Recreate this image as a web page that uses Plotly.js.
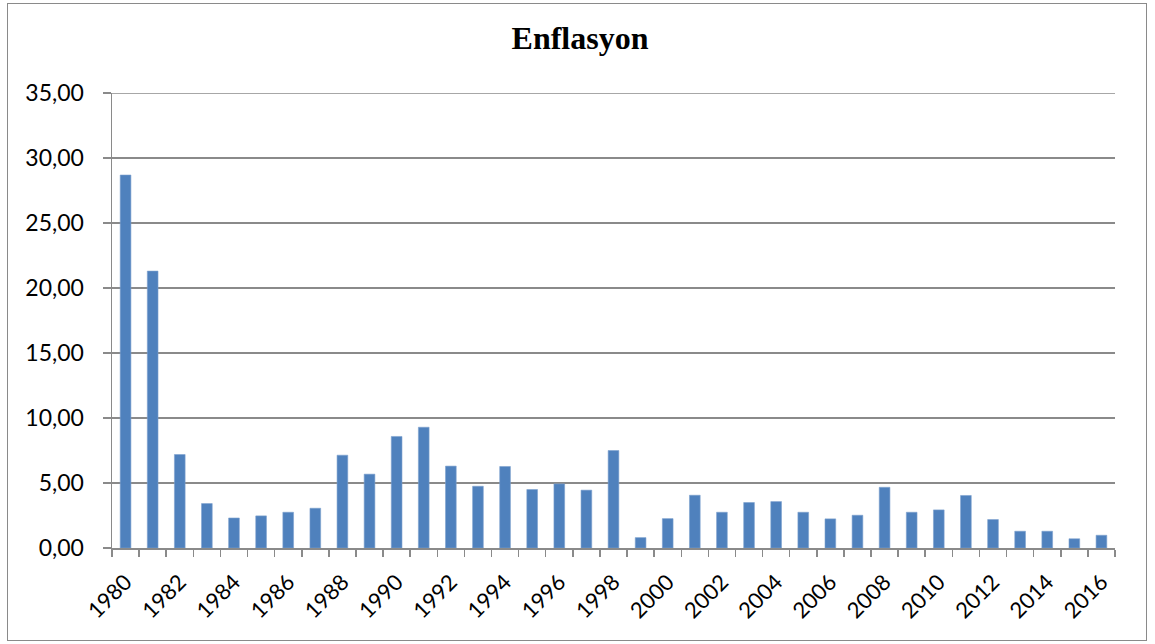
<!DOCTYPE html>
<html>
<head>
<meta charset="utf-8">
<script src="https://cdn.plot.ly/plotly-3.0.1.min.js"></script>
<style>
  html, body { margin: 0; padding: 0; background: #fff; }
  #chart { width: 1155px; height: 644px; }
  #frame { position: absolute; left: 7px; top: 3px; width: 1140px; height: 638px;
           border: 1.5px solid #8a8a8a; box-sizing: border-box; pointer-events: none; }
</style>
</head>
<body>
<div id="chart"></div>
<div id="frame"></div>
<script>
const years = [1980,1981,1982,1983,1984,1985,1986,1987,1988,1989,1990,1991,1992,1993,1994,1995,1996,1997,1998,
               1999,2000,2001,2002,2003,2004,2005,2006,2007,2008,2009,2010,2011,2012,2013,2014,2015,2016];
const inflation = [28.69,21.30,7.19,3.42,2.31,2.47,2.75,3.06,7.14,5.68,8.58,9.29,6.30,4.75,6.27,4.50,4.93,4.45,7.50,
                   0.80,2.26,4.06,2.75,3.50,3.57,2.75,2.24,2.52,4.67,2.75,2.93,4.04,2.19,1.29,1.29,0.71,0.98];
const titleText = 'Enflasyon';
const yMax = 35;

const gridColor = '#8a8a8a';

Plotly.newPlot('chart', [{
  type: 'bar',
  x: years,
  y: inflation,
  marker: { color: '#4f81bd', line: { color: '#7ea1cf', width: 0.6 } },
  hoverinfo: 'x+y'
}], {
  width: 1155, height: 644,
  margin: { l: 112, r: 40, t: 93.3, b: 96.3, pad: 0 },
  paper_bgcolor: '#ffffff', plot_bgcolor: '#ffffff',
  separators: ',.',
  bargap: 0.605,
  showlegend: false,
  title: {
    text: '<b>' + titleText + '</b>',
    font: { family: 'Liberation Serif, Times New Roman, serif', size: 32, color: '#000' },
    x: 580 / 1155, xref: 'container', xanchor: 'center',
    y: 1 - 38 / 644, yref: 'container', yanchor: 'middle'
  },
  shapes: [{
    type: 'line', xref: 'paper', yref: 'y', x0: 0, x1: 1, y0: yMax, y1: yMax,
    line: { color: gridColor, width: 1.5 }, layer: 'below'
  }],
  xaxis: {
    range: [1979.5, 2016.5],
    tickmode: 'linear', tick0: 1980, dtick: 2,
    tickangle: -45,
    ticks: '', showgrid: false, zeroline: false,
    showline: true, linecolor: gridColor, linewidth: 1.5,
    tickfont: { family: 'Lato, Carlito, sans-serif', size: 22, color: '#000' },
    ticklabelstandoff: 11,
    minor: { tick0: 1979.5, dtick: 1, ticks: 'outside', ticklen: 7, tickwidth: 1.5, tickcolor: gridColor, showgrid: false }
  },
  yaxis: {
    range: [0, yMax], tickmode: 'linear', tick0: 0, dtick: 5,
    tickformat: '.2f',
    ticks: 'outside', ticklen: 8, tickwidth: 1.5, tickcolor: gridColor,
    showgrid: true, gridcolor: gridColor, gridwidth: 1.5,
    zeroline: false,
    showline: true, linecolor: gridColor, linewidth: 1.5,
    tickfont: { family: 'Lato, Carlito, sans-serif', size: 23, color: '#000' },
    ticklabelstandoff: 14
  }
}, { displayModeBar: false, staticPlot: true });
</script>
</body>
</html>
